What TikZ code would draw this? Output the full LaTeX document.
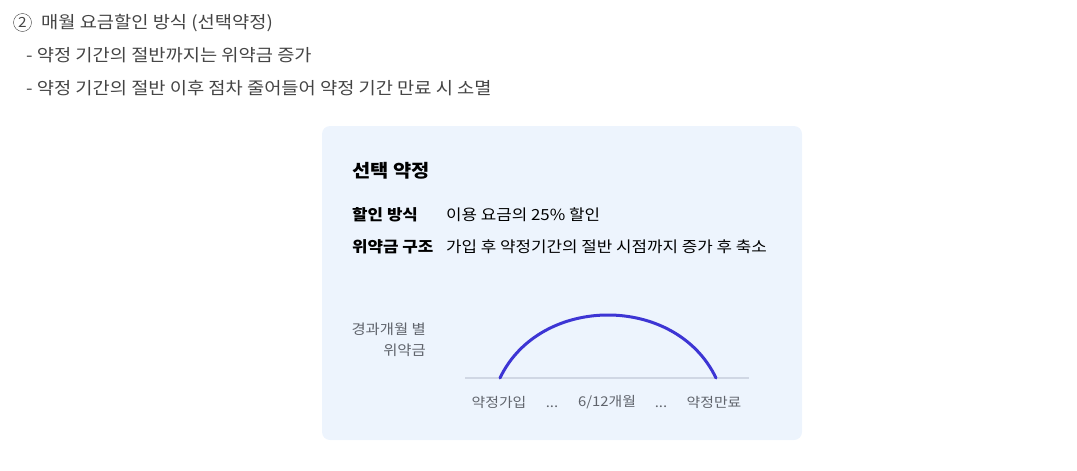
\documentclass[tikz,border=0pt]{standalone}
\usepackage{fontspec}
\setmainfont{Noto Sans CJK KR}[FakeStretch=1.1]
\definecolor{textgray}{RGB}{68, 68, 68}
\definecolor{labelgray}{RGB}{96, 100, 108}
\definecolor{boxfill}{RGB}{237, 244, 253}
\definecolor{arcblue}{RGB}{61, 53, 212}
\definecolor{axisgray}{RGB}{208, 215, 228}

\tikzset{
    headtext/.style  = {anchor=west, inner sep=0pt, text=textgray, font=\fontsize{17}{20}\selectfont},
    boxkey/.style    = {anchor=west, inner sep=0pt, text=black, font=\fontsize{15.3}{18}\selectfont\bfseries},
    boxvalue/.style  = {anchor=west, inner sep=0pt, text=black, font=\fontsize{15.3}{18}\selectfont},
    ticklabel/.style = {inner sep=0pt, text=labelgray, font=\fontsize{13.5}{16}\selectfont}
}

\begin{document}
\begin{tikzpicture}[x=1pt, y=-1pt]
            \useasboundingbox (0, 0) rectangle (1077, 471);
            % Heading
            \node[circle, draw=textgray, thin, inner sep=0pt, minimum size=18pt, text=textgray,
                  font=\fontsize{14}{14}\selectfont] (num) at (22.5, 22.5) {2};
            \node[headtext] (title) at (41, 23) {매월 요금할인 방식 (선택약정)};
            \node[headtext] (lineA) at (26, 55) {- 약정 기간의 절반까지는 위약금 증가};
            \node[headtext] (lineB) at (26, 88) {- 약정 기간의 절반 이후 점차 줄어들어 약정 기간 만료 시 소멸};
            % Card
            \fill[boxfill, rounded corners=8pt]                     (322, 126) rectangle (802, 440);
            \node[anchor=west, inner sep=0pt, font=\fontsize{18}{21}\selectfont\bfseries] (cardtitle) at (352, 171) {선택 약정};
            \node[boxkey]   (keyA) at (352, 215) {할인 방식};
            \node[boxvalue] (valA) at (446, 215) {이용 요금의 25\% 할인};
            \node[boxkey]   (keyB) at (352, 247) {위약금 구조};
            \node[boxvalue] (valB) at (446, 247) {가입 후 약정기간의 절반 시점까지 증가 후 축소};
            % Penalty curve
            \node[ticklabel, anchor=east, font=\fontsize{14}{16}\selectfont] (ylabA) at (426, 329) {경과개월 별};
            \node[ticklabel, anchor=east, font=\fontsize{14}{16}\selectfont] (ylabB) at (426, 350) {위약금};
            \draw[axisgray, line width=1.2pt]                       (465, 378) -- (749, 378);
            \draw[arcblue, line width=3pt, line cap=round]
                 (500, 378) .. controls (540, 294) and (676, 294) .. (716, 378);
            \node[ticklabel] (start) at (499, 402) {약정가입};
            \node[ticklabel, anchor=base] (dotsA) at (552, 407) {{.}{.}{.}};
            \node[ticklabel] (half)  at (607, 402) {6/12개월};
            \node[ticklabel, anchor=base] (dotsB) at (661, 407) {{.}{.}{.}};
            \node[ticklabel] (end)   at (714, 402) {약정만료};
        \end{tikzpicture}
\end{document}
